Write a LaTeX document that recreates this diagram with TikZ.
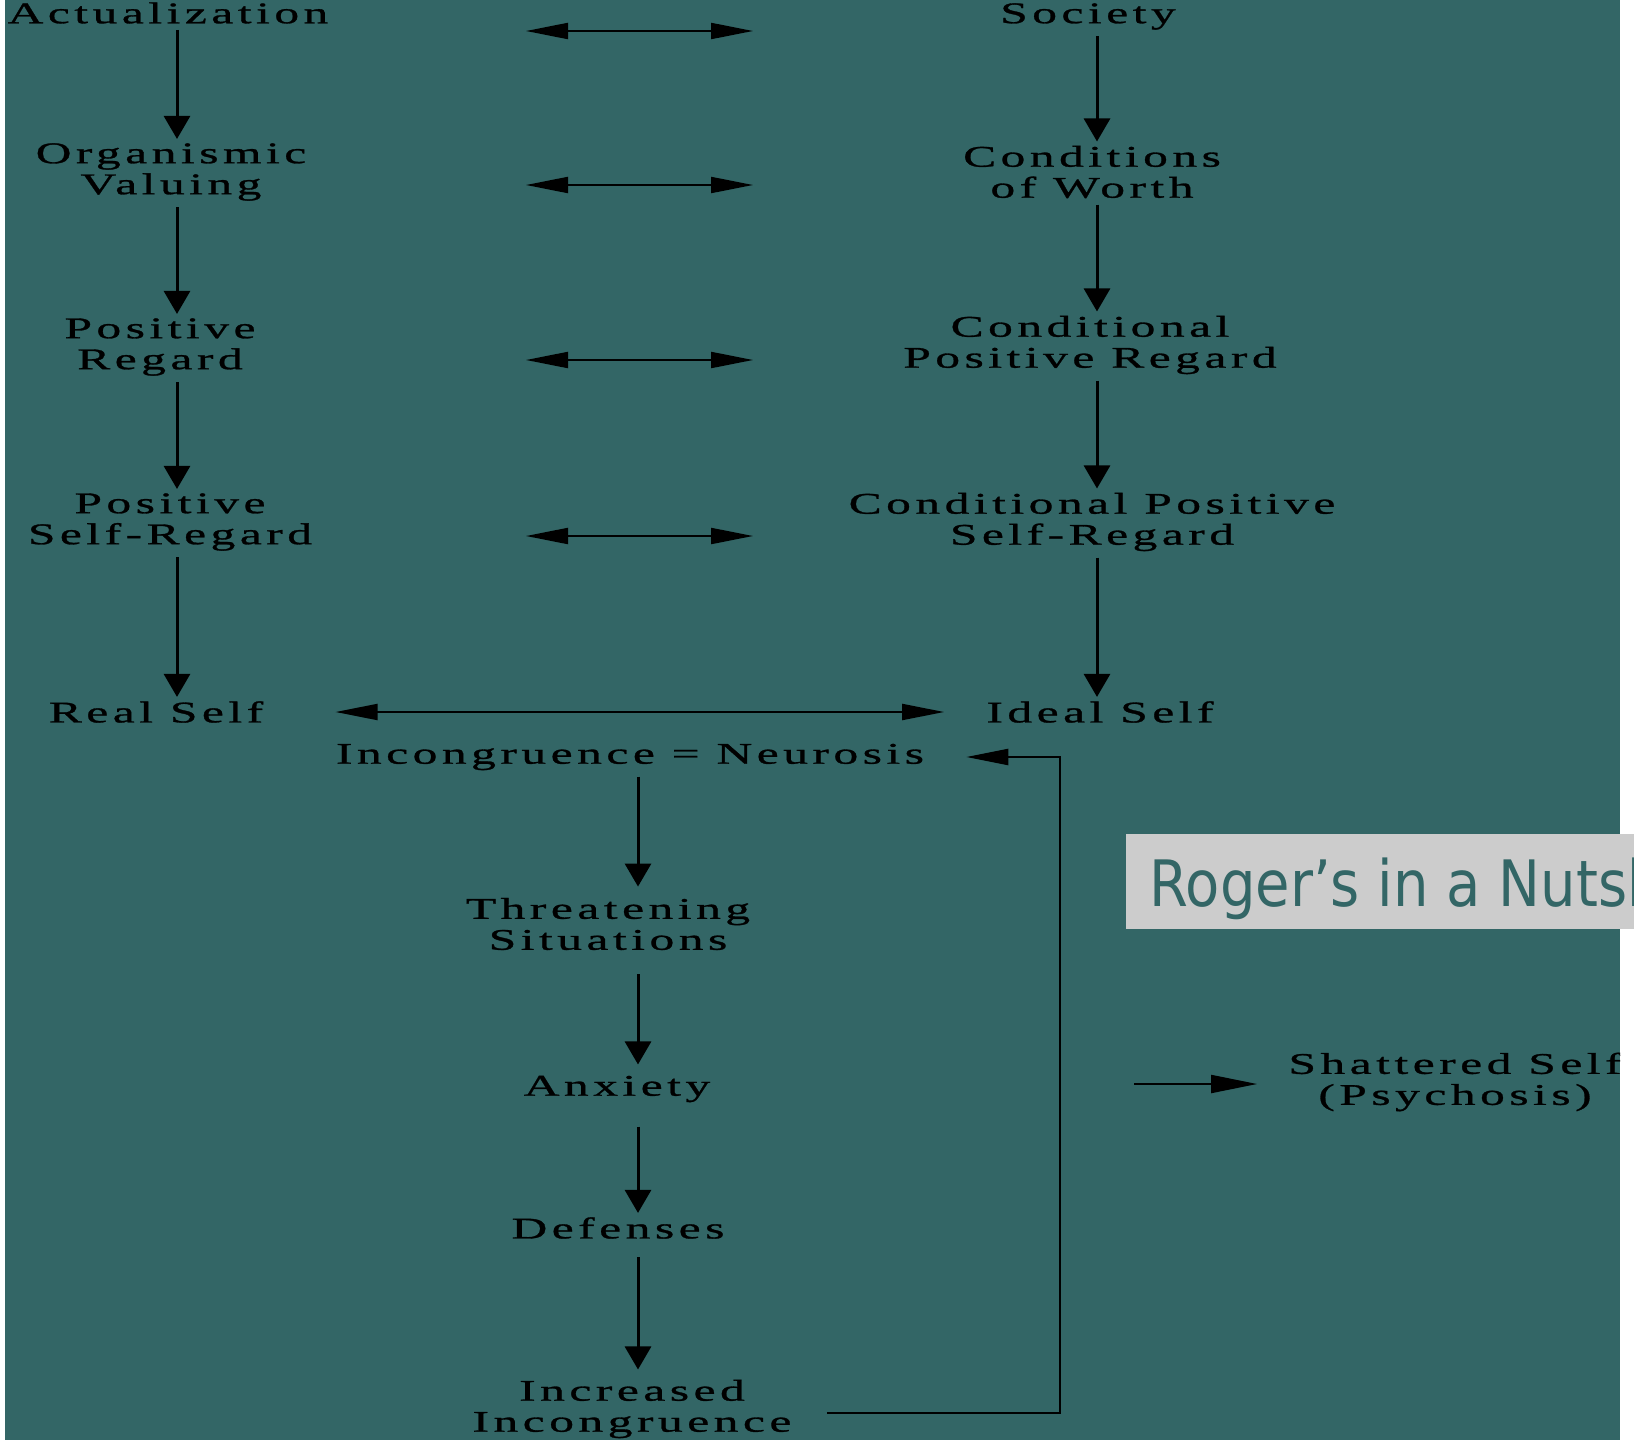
\documentclass[tikz,border=0pt]{standalone}
\usepackage{fontspec}
\usetikzlibrary{arrows.meta}
\newfontfamily\diafont[FakeStretch=1.65,LetterSpace=15,FakeBold=1]{Liberation Serif}
\newfontfamily\titlefont{DejaVu Sans}
\definecolor{tealbg}{RGB}{51,102,102}
\definecolor{titlegray}{RGB}{204,204,204}
\tikzset{every picture/.style={line width=0.75pt}}
\tikzset{
lbl/.style={inner sep=0pt, align=center, font={\diafont\fontsize{30}{31}\selectfont}},
varrow/.style={line width=3pt, -{Triangle[length=23pt,width=26pt]}, shorten <=6pt, shorten >=4pt},
hhead/.tip={Triangle[length=42pt,width=16pt]},
harrow/.style={line width=2pt, hhead-hhead},
}

\begin{document}
\begin{tikzpicture}[x=1pt,y=1pt,yscale=-1]
\useasboundingbox (0,0) rectangle (1634,1440);
\clip (0,0) rectangle (1634,1440);
\fill[white] (0,0) rectangle (1634,1440);

\begin{scope}
\clip (5,0) rectangle (1620,1440);
%Shape: Rectangle [background]
\fill[tealbg] (5,0) rectangle (1620,1440);

% Text Node
\node[lbl] (act) at (168,13) {Actualization};
% Text Node
\node[lbl] (org) at (171,172) {Organismic\\Valuing};
% Text Node
\node[lbl] (preg) at (160,347) {Positive\\Regard};
% Text Node
\node[lbl] (psreg) at (170,522) {Positive\\Self-Regard};
% Text Node
\node[lbl] (real) at (156,712) {Real Self};
% Text Node
\node[lbl] (soc) at (1088,16.5) {Society};
% Text Node
\node[lbl] (cow) at (1092,172) {Conditions\\of Worth};
% Text Node
\node[lbl] (cpr) at (1090,345) {Conditional\\Positive Regard};
% Text Node
\node[lbl] (cpsr) at (1092,522) {Conditional Positive\\Self-Regard};
% Text Node
\node[lbl] (ideal) at (1100,712) {Ideal Self};
% Text Node
\node[lbl] (incon) at (630,757) {Incongruence = Neurosis};
% Text Node
\node[lbl] (threat) at (608,924) {Threatening\\Situations};
% Text Node
\node[lbl] (anx) at (617,1089) {Anxiety};
% Text Node
\node[lbl] (def) at (618,1228) {Defenses};
% Text Node
\node[lbl] (incr) at (632,1409) {Increased\\Incongruence};
% Text Node
\node[lbl] (shat) at (1455,1082) {Shattered Self\\(Psychosis)};

\coordinate (lcol) at (177,0);
\coordinate (rcol) at (1097,0);
\coordinate (mcol) at (638,0);

%Straight Lines [left column]
\draw[varrow] (act.south -| lcol) -- (org.north -| lcol);
\draw[varrow] (org.south -| lcol) -- (preg.north -| lcol);
\draw[varrow] (preg.south -| lcol) -- (psreg.north -| lcol);
\draw[varrow] (psreg.south -| lcol) -- (real.north -| lcol);
%Straight Lines [right column]
\draw[varrow] (soc.south -| rcol) -- (cow.north -| rcol);
\draw[varrow] (cow.south -| rcol) -- (cpr.north -| rcol);
\draw[varrow] (cpr.south -| rcol) -- (cpsr.north -| rcol);
\draw[varrow] (cpsr.south -| rcol) -- (ideal.north -| rcol);
%Straight Lines [middle column]
\draw[varrow, shorten >=11pt] (incon.south -| mcol) -- (threat.north -| mcol);
\draw[varrow, shorten <=24pt, shorten >=11pt] (threat.south -| mcol) -- (anx.north -| mcol);
\draw[varrow, shorten <=24pt, shorten >=4pt] (anx.south -| mcol) -- (def.north -| mcol);
\draw[varrow, shorten <=18pt, shorten >=10pt] (def.south -| mcol) -- (incr.north -| mcol);

%Straight Lines [between the columns]
\foreach \y [count=\i] in {31,185,360,536} {
  \coordinate (pl\i) at (526,\y);
  \coordinate (pr\i) at (753,\y);
  \draw[harrow] (pl\i) -- (pr\i);
}
\draw[harrow, shorten <=72pt, shorten >=42pt] (real.east) -- (ideal.west);

%Straight Lines [feedback]
\coordinate (fb) at (1060,1000);
\draw[line width=2.5pt, -hhead, shorten <=35pt, shorten >=42pt] ([yshift=4pt]incr.east) -| (fb) |- (incon.east);
\coordinate (sh0) at (1134,1084);
\draw[line width=2pt, -{Triangle[length=46pt,width=18pt]}, shorten >=31pt] (sh0) -- (shat.west |- sh0);
\end{scope}

%Shape: Rectangle [title]
\fill[titlegray] (1126,834) rectangle (1640,929);
% Text Node
\node[anchor=base west, inner sep=0pt, text=tealbg, font={\titlefont\fontsize{64}{70}\selectfont}] (title) at (1149,906) {\scalebox{0.875}[1]{Roger’s in a Nutshell}};
\end{tikzpicture}
\end{document}
